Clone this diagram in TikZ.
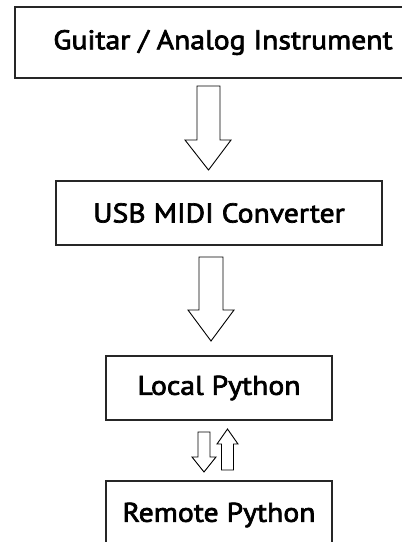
\documentclass[tikz,border=0pt]{standalone}
\usepackage{fontspec}
\setmainfont{PT Sans}[FakeStretch=1.1,FakeBold=2.6]
\begin{document}
\begin{tikzpicture}[x=1pt,y=-1pt,
  box/.style={draw=black!85, line width=1.1pt, rectangle, inner sep=0pt, align=center},
  txt/.style={font=\fontsize{27}{32}\selectfont},
  blockarrow/.style={draw=black, line width=0.9pt, fill=white, line join=miter}]
\useasboundingbox (0,0) rectangle (402,542);
\clip (0,0) rectangle (402,542);
% boxes
\node[box, txt, minimum width=416pt, minimum height=71pt] (guitar) at (223,42.5) {Guitar / Analog Instrument};
\node[box, txt, minimum width=326pt, minimum height=64pt] (usb) at (219,213) {USB MIDI Converter};
\node[box, txt, minimum width=226pt, minimum height=64pt] (local) at (219,388) {Local Python};
\node[box, txt, minimum width=226pt, minimum height=68pt] (remote) at (219,515) {Remote Python};
% block arrows
\draw[blockarrow] (197,86) -- (220,86) -- (220,140) -- (231,140) -- (208.5,170) -- (185,140) -- (197,140) -- cycle;
\draw[blockarrow] (199,257) -- (223,257) -- (223,310) -- (234,310) -- (211,341) -- (188,310) -- (199,310) -- cycle;
\draw[blockarrow] (198,432) -- (210,432) -- (210,457) -- (216,457) -- (204,472) -- (192,457) -- (198,457) -- cycle;
\draw[blockarrow] (221.5,470) -- (233.5,470) -- (233.5,444) -- (238,444) -- (227.5,429) -- (217,444) -- (221.5,444) -- cycle;
\end{tikzpicture}
\end{document}
